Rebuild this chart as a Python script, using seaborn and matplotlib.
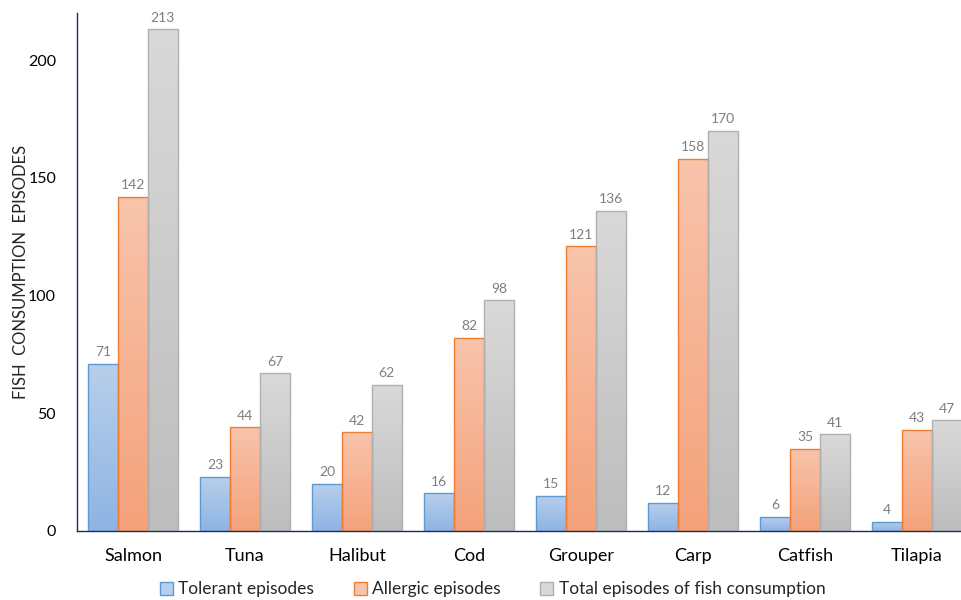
import numpy as np
import pandas as pd
import matplotlib
matplotlib.use("Agg")
import matplotlib.pyplot as plt
import seaborn as sns
from matplotlib.colors import LinearSegmentedColormap
from matplotlib.patches import Patch

fish = ["Salmon", "Tuna", "Halibut", "Cod", "Grouper", "Carp", "Catfish", "Tilapia"]
tolerant = [71, 23, 20, 16, 15, 12, 6, 4]
allergic = [142, 44, 42, 82, 121, 158, 35, 43]
total = [213, 67, 62, 98, 136, 170, 41, 47]
series_names = ["Tolerant episodes", "Allergic episodes",
                "Total episodes of fish consumption"]
y_ticks = [0, 50, 100, 150, 200]

df = pd.DataFrame({
    "fish": fish * 3,
    "series": [series_names[0]] * 8 + [series_names[1]] * 8 + [series_names[2]] * 8,
    "value": tolerant + allergic + total,
})

# (top colour, bottom colour, edge colour) for each series
styles = [
    ("#B8CFEB", "#8EB4E3", "#5B9BD5"),
    ("#F8C4AC", "#F4A27B", "#ED7D31"),
    ("#D9D9D9", "#BDBDBD", "#B0B0B0"),
]

sns.set_style("white")
plt.rcParams["font.family"] = ["Lato", "DejaVu Sans"]

fig = plt.figure(figsize=(9.62, 6.0), dpi=100)
ax = fig.add_axes([77 / 962, 69 / 600, 896 / 962, 518 / 600])

sns.barplot(data=df, x="fish", y="value", hue="series", order=fish,
            hue_order=series_names, width=0.8, ax=ax, legend=False,
            palette=[s[1] for s in styles], saturation=1)

ax.set_ylim(0, 220)
ax.set_xlim(-0.5, len(fish) - 0.5)

for container, (top_c, bot_c, edge_c) in zip(ax.containers, styles):
    cmap = LinearSegmentedColormap.from_list("grad", [bot_c, top_c])
    for patch in container:
        x, y0 = patch.get_x(), patch.get_y()
        w, h = patch.get_width(), patch.get_height()
        grad = np.linspace(0, 1, 256).reshape(-1, 1)
        img = ax.imshow(grad, cmap=cmap, origin="lower", aspect="auto",
                        extent=[x, x + w, y0, y0 + h], zorder=2)
        img.set_clip_path(patch)
        patch.set_facecolor("none")
        patch.set_edgecolor(edge_c)
        patch.set_linewidth(1.0)
        patch.set_zorder(3)
    ax.bar_label(container, fmt="%d", padding=4, color="#7F7F7F", fontsize=10)

ax.set_ylim(0, 220)
ax.set_xlim(-0.5, len(fish) - 0.5)
ax.set_yticks(y_ticks)
ax.tick_params(axis="y", length=0, pad=15, labelsize=11.5, labelcolor="black")
ax.tick_params(axis="x", length=0, pad=12, labelsize=13, labelcolor="black")
ax.set_xlabel("")
ax.set_ylabel("FISH  CONSUMPTION  EPISODES", fontsize=12)
ax.yaxis.set_label_coords(-48 / 896, 0.5)

for side in ["top", "right"]:
    ax.spines[side].set_visible(False)
for side in ["left", "bottom"]:
    ax.spines[side].set_color("#1F2B5E")
    ax.spines[side].set_linewidth(1.0)

handles = [Patch(facecolor=s[0], edgecolor=s[2], linewidth=1.0) for s in styles]
fig.legend(handles, series_names, loc="center", bbox_to_anchor=(0.512, 0.018),
           ncol=3, frameon=False, fontsize=12.5, handlelength=0.75,
           handleheight=0.75, handletextpad=0.3, columnspacing=2.3)

fig.savefig("out.png", dpi=100)
